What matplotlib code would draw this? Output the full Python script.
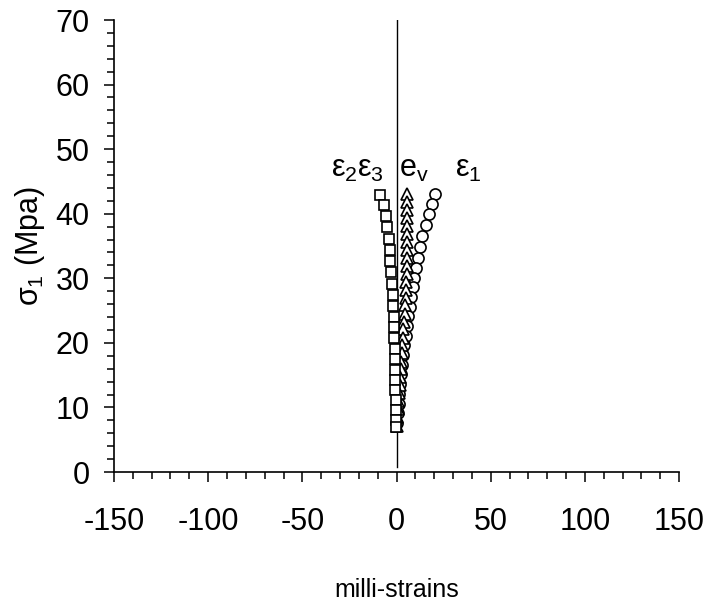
import numpy as np
import matplotlib.pyplot as plt
from matplotlib.ticker import MultipleLocator

plt.rcParams['font.family'] = ['Liberation Sans', 'DejaVu Sans']
plt.rcParams['mathtext.fontset'] = 'custom'
plt.rcParams['mathtext.rm'] = 'Liberation Sans'
plt.rcParams['mathtext.it'] = 'Liberation Sans'
plt.rcParams['axes.unicode_minus'] = False

# epsilon_2 / epsilon_3 (squares)
sig_sq = [42.9, 41.3, 39.6, 37.9, 36.1, 34.4, 32.6, 30.9, 29.1, 27.4, 25.7,
          24.0, 22.4, 20.7, 19.1, 17.5, 15.8, 14.2, 12.7, 11.1, 9.6, 8.0, 7.0]
eps_sq = [-8.6, -6.9, -5.8, -4.9, -4.1, -3.6, -3.2, -2.7, -2.3, -2.0, -1.7,
          -1.5, -1.3, -1.1, -1.0, -0.9, -0.8, -0.7, -0.6, -0.5, -0.4, -0.3, -0.2]

# volumetric strain (triangles)
sig_tri = [43.0, 41.8, 40.6, 39.4, 38.1, 36.9, 35.6, 34.4, 33.2, 31.9, 30.7,
           29.5, 28.2, 27.0, 25.8, 24.5, 23.3, 22.1, 20.8, 19.6, 18.4, 17.1,
           15.9, 14.7, 13.4, 12.2, 11.0, 9.7, 8.5, 7.2]
eps_tri = [5.6, 5.7, 5.7, 5.7, 5.7, 5.7, 5.7, 5.6, 5.6, 5.5, 5.4,
           5.2, 5.0, 4.8, 4.5, 4.3, 4.0, 3.7, 3.4, 3.1, 2.8, 2.5,
           2.2, 1.9, 1.6, 1.3, 1.0, 0.8, 0.5, 0.3]

# epsilon_1 (circles)
sig_cir = [43.0, 41.5, 39.9, 38.2, 36.5, 34.9, 33.2, 31.6, 30.1, 28.6, 27.1,
           25.6, 24.1, 22.6, 21.1, 19.6, 18.1, 16.6, 15.1, 13.6, 12.1, 10.6,
           9.1, 7.6]
eps_cir = [20.6, 18.9, 17.2, 15.4, 13.8, 12.4, 11.2, 10.3, 9.5, 8.7, 7.9,
           7.1, 6.3, 5.5, 4.8, 4.1, 3.5, 2.9, 2.4, 1.9, 1.5, 1.1,
           0.7, 0.4]

fig = plt.figure(figsize=(7.06, 6.08), dpi=100)
ax = fig.add_axes([114 / 706, 1 - 472 / 608, 565 / 706, 452 / 608])

ax.axvline(0, ymin=0.01, ymax=1, color='black', lw=1)

mk = dict(linestyle='none', markerfacecolor='white', markeredgecolor='black',
          markeredgewidth=1.2)
ax.plot(eps_cir, sig_cir, marker='o', markersize=8, **mk)
ax.plot(eps_tri, sig_tri, marker='^', markersize=8, **mk)
ax.plot(eps_sq, sig_sq, marker='s', markersize=7.5, **mk)

ax.set_xlim(-150, 150)
ax.set_ylim(0, 70)
ax.spines['top'].set_visible(False)
ax.spines['right'].set_visible(False)
for s in ('left', 'bottom'):
    ax.spines[s].set_linewidth(1.2)
ax.xaxis.set_major_locator(MultipleLocator(50))
ax.xaxis.set_minor_locator(MultipleLocator(10))
ax.yaxis.set_major_locator(MultipleLocator(10))
ax.yaxis.set_minor_locator(MultipleLocator(2))
ax.tick_params(which='major', length=7.5, width=1.1, labelsize=22, colors='black')
ax.tick_params(which='minor', length=5, width=1.1)
ax.tick_params(axis='x', which='major', pad=18)
ax.tick_params(axis='y', which='major', pad=10)

ax.set_xlabel('milli-strains', fontsize=18, labelpad=29)
ax.set_ylabel(r'$\sigma_1$ (Mpa)', fontsize=22, labelpad=6)

ax.text(-21, 47, r'$\varepsilon_2\varepsilon_3$', fontsize=22, ha='center', va='center')
ax.text(9, 47, r'$\mathrm{e_v}$', fontsize=22, ha='center', va='center')
ax.text(38, 47, r'$\varepsilon_1$', fontsize=22, ha='center', va='center')

fig.savefig('out.png', dpi=100)
